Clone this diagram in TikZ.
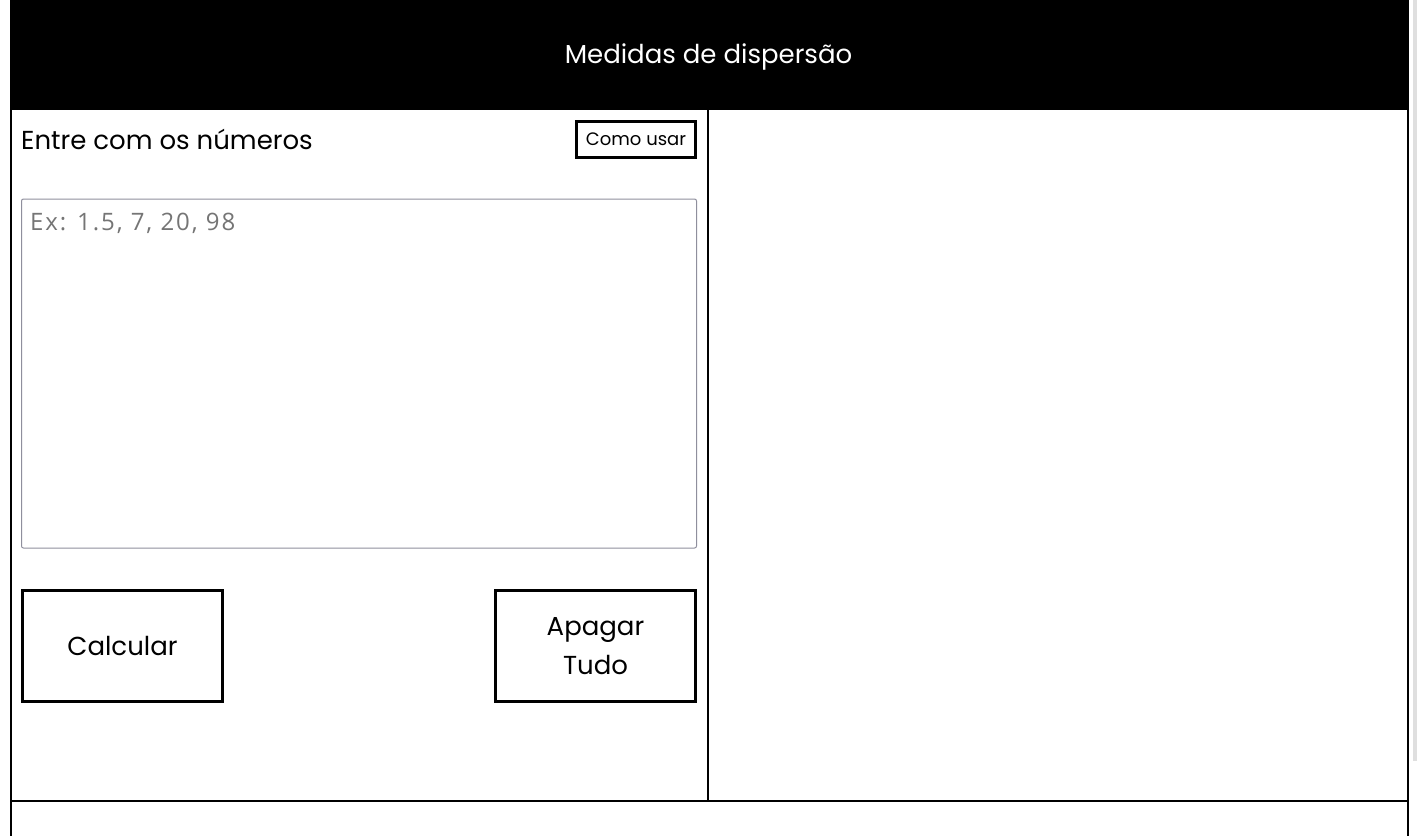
\documentclass[tikz,border=0pt]{standalone}
\usepackage{fontspec}
\setmainfont{Poppins}
\newfontfamily\holderfont[LetterSpace=8]{Open Sans}
\usetikzlibrary{positioning}

\begin{document}
\begin{tikzpicture}[x=1pt,y=-1pt,
  rule/.style={line width=2pt},
  btn/.style={draw,line width=3pt,inner sep=0pt,align=center,font=\fontsize{26}{39}\selectfont},
  smallbtn/.style={draw,line width=3pt,inner sep=0pt,font=\fontsize{18}{20}\selectfont}]
\useasboundingbox (0,0) rectangle (1418,836);
\fill[white] (0,0) rectangle (1418,836);

% header
\fill[black] (10,0) rectangle (1408.7,110);
\node[white,font=\fontsize{26}{30}\selectfont] (title) at (708.5,56.5) {Medidas de dispersão};

% frame
\draw[rule] (11,0) -- (11,836);
\draw[rule] (1407.7,110) -- (1407.7,836);
\draw[rule] (707.7,110) -- (707.7,800.7);
\draw[rule] (10,800.7) -- (1408.7,800.7);

% scrollbar
\fill[gray!25] (1413,0) rectangle (1417,761);

% left panel
\node[anchor=west,inner sep=0pt,font=\fontsize{26}{30}\selectfont] (entre) at (21,139.5) {Entre com os números};
\node[smallbtn,minimum width=119,minimum height=35.5] (como) at (636,139.3) {\raisebox{-1pt}{Como usar}};

\draw[line width=1pt,draw={rgb,255:red,143;green,143;blue,157},rounded corners=2pt] (21.5,199) rectangle (696.5,548);
\node[anchor=west,inner sep=0pt,text={rgb,255:red,117;green,117;blue,117},font=\holderfont\fontsize{24}{26}\selectfont] (holder) at (30,223) {Ex: 1.5, 7, 20, 98};

\node[btn,minimum width=200,minimum height=111] (calc) at (122.5,646) {Calcular};
\node[btn,minimum width=200,minimum height=111] (apagar) at (595.5,646) {\raisebox{-1pt}{Apagar}\\\raisebox{-1pt}{Tudo}};

\end{tikzpicture}
\end{document}
